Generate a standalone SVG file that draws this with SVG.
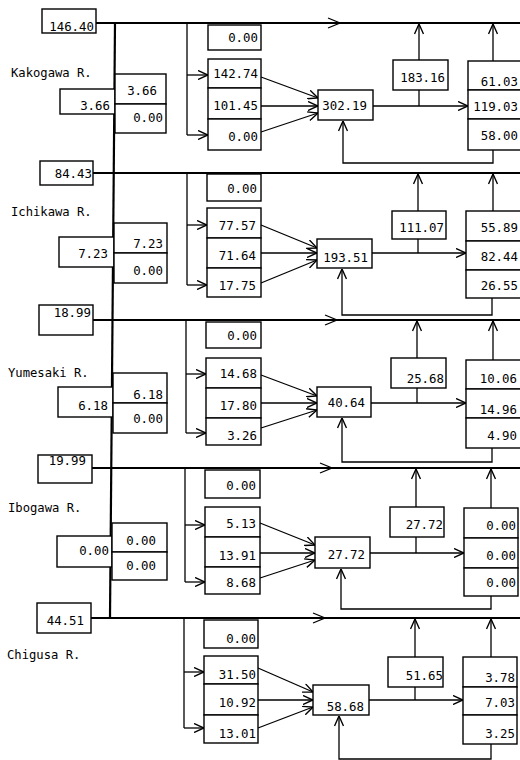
<svg xmlns="http://www.w3.org/2000/svg" width="520" height="760" viewBox="0 0 520 760">
<style>
rect{fill:#fff;stroke:#000;stroke-width:1.4}
text{font-family:"DejaVu Sans Mono","Liberation Mono",monospace;font-size:12.4px;fill:#000}
.e{text-anchor:end}
.lbl{font-size:12.2px}
#connectors path,#connectors line,#connectors polyline{fill:none;stroke:#000;stroke-width:1.3}
#connectors .main{stroke-width:2.2}
</style>
<defs>
<marker id="a" viewBox="0 0 10 10" refX="10" refY="5" markerWidth="11" markerHeight="10" markerUnits="userSpaceOnUse" orient="auto">
<path d="M0,0.5 L10,5 L0,9.5" fill="none" stroke="#000" stroke-width="1.4"/>
</marker>
</defs>
<rect x="0" y="0" width="520" height="760" style="stroke:none;fill:#fff"/>

<g id="connectors">
<!-- trunk -->
<line class="main" x1="115" y1="23" x2="110" y2="618"/>
<!-- Section 1 -->
<line class="main" x1="96" y1="23" x2="520" y2="23"/>
<polyline points="328,18 340,23 328,28"/>
<line x1="187" y1="23" x2="187" y2="135"/>
<line x1="187" y1="75" x2="208" y2="75" marker-end="url(#a)"/>
<line x1="187" y1="135" x2="208" y2="135" marker-end="url(#a)"/>
<line x1="261" y1="77" x2="318" y2="98" marker-end="url(#a)"/>
<line x1="261" y1="106" x2="318" y2="106" marker-end="url(#a)"/>
<line x1="261" y1="132" x2="318" y2="113" marker-end="url(#a)"/>
<line x1="373" y1="106" x2="468" y2="106" marker-end="url(#a)"/>
<line x1="419" y1="106" x2="419" y2="90"/>
<line x1="419" y1="60" x2="419" y2="24" marker-end="url(#a)"/>
<line x1="493" y1="61" x2="493" y2="24" marker-end="url(#a)"/>
<path d="M493,150 V163 H343 V121" marker-end="url(#a)"/>
<!-- Section 2 -->
<line class="main" x1="93" y1="173" x2="520" y2="173"/>
<line x1="187" y1="173" x2="187" y2="285"/>
<line x1="187" y1="225" x2="207" y2="225" marker-end="url(#a)"/>
<line x1="187" y1="285" x2="207" y2="285" marker-end="url(#a)"/>
<line x1="261" y1="225" x2="317" y2="248" marker-end="url(#a)"/>
<line x1="261" y1="253" x2="317" y2="253" marker-end="url(#a)"/>
<line x1="261" y1="283" x2="317" y2="260" marker-end="url(#a)"/>
<line x1="372" y1="253" x2="466" y2="253" marker-end="url(#a)"/>
<line x1="418" y1="253" x2="418" y2="239"/>
<line x1="418" y1="211" x2="418" y2="174" marker-end="url(#a)"/>
<line x1="493" y1="211" x2="493" y2="174" marker-end="url(#a)"/>
<path d="M492,298 V315 H342 V269" marker-end="url(#a)"/>
<!-- Section 3 -->
<line class="main" x1="93" y1="320" x2="520" y2="320"/>
<polyline points="325,315 337,320 325,325"/>
<line x1="186" y1="320" x2="186" y2="433"/>
<line x1="186" y1="374" x2="206" y2="374" marker-end="url(#a)"/>
<line x1="186" y1="433" x2="206" y2="433" marker-end="url(#a)"/>
<line x1="261" y1="375" x2="317" y2="396" marker-end="url(#a)"/>
<line x1="261" y1="403" x2="317" y2="403" marker-end="url(#a)"/>
<line x1="261" y1="428" x2="317" y2="410" marker-end="url(#a)"/>
<line x1="371" y1="403" x2="466" y2="403" marker-end="url(#a)"/>
<line x1="417" y1="403" x2="417" y2="388"/>
<line x1="417" y1="358" x2="417" y2="321" marker-end="url(#a)"/>
<line x1="493" y1="360" x2="493" y2="321" marker-end="url(#a)"/>
<path d="M492,448 V462 H342 V418" marker-end="url(#a)"/>
<!-- Section 4 -->
<line class="main" x1="92" y1="468" x2="520" y2="468"/>
<polyline points="320,463 332,468 320,473"/>
<line x1="185" y1="468" x2="185" y2="582"/>
<line x1="185" y1="525" x2="205" y2="525" marker-end="url(#a)"/>
<line x1="185" y1="582" x2="205" y2="582" marker-end="url(#a)"/>
<line x1="260" y1="523" x2="315" y2="545" marker-end="url(#a)"/>
<line x1="260" y1="553" x2="315" y2="553" marker-end="url(#a)"/>
<line x1="260" y1="578" x2="315" y2="560" marker-end="url(#a)"/>
<line x1="370" y1="553" x2="464" y2="553" marker-end="url(#a)"/>
<line x1="416" y1="553" x2="416" y2="537"/>
<line x1="416" y1="507" x2="416" y2="469" marker-end="url(#a)"/>
<line x1="491" y1="508" x2="491" y2="469" marker-end="url(#a)"/>
<path d="M491,596 V609 H341 V569" marker-end="url(#a)"/>
<!-- Section 5 -->
<line class="main" x1="91" y1="618" x2="520" y2="618"/>
<polyline points="313,613 325,618 313,623"/>
<line x1="184" y1="618" x2="184" y2="728"/>
<line x1="184" y1="672" x2="204" y2="672" marker-end="url(#a)"/>
<line x1="184" y1="728" x2="204" y2="728" marker-end="url(#a)"/>
<line x1="258" y1="668" x2="313" y2="692" marker-end="url(#a)"/>
<line x1="258" y1="700" x2="313" y2="700" marker-end="url(#a)"/>
<line x1="258" y1="728" x2="313" y2="707" marker-end="url(#a)"/>
<line x1="369" y1="700" x2="463" y2="700" marker-end="url(#a)"/>
<line x1="415" y1="700" x2="415" y2="687"/>
<line x1="415" y1="657" x2="415" y2="619" marker-end="url(#a)"/>
<line x1="491" y1="657" x2="491" y2="619" marker-end="url(#a)"/>
<path d="M491,744 V759 H339 V716" marker-end="url(#a)"/>
</g>

<!-- Section 1 : Kakogawa R. -->
<g id="s1-label"><text class="lbl" x="11" y="77">Kakogawa R.</text></g>
<g id="s1-in"><rect x="42" y="9" width="54" height="24"/><text class="e" x="94" y="31">146.40</text></g>
<g id="s1-left"><rect x="60" y="89" width="55" height="25"/><text class="e" x="110" y="110">3.66</text></g>
<g id="s1-stackL"><rect x="115" y="74" width="51" height="30"/><text class="e" x="157" y="95">3.66</text><rect x="115" y="104" width="51" height="29"/><text class="e" x="163" y="122">0.00</text></g>
<g id="s1-top"><rect x="208" y="25" width="53" height="25"/><text class="e" x="258" y="42">0.00</text></g>
<g id="s1-mid"><rect x="208" y="59" width="53" height="29"/><text class="e" x="258" y="78">142.74</text><rect x="208" y="88" width="53" height="31"/><text class="e" x="258" y="110">101.45</text><rect x="208" y="119" width="53" height="31"/><text class="e" x="258" y="141">0.00</text></g>
<g id="s1-center"><rect x="318" y="90" width="55" height="30"/><text class="e" x="367" y="110">302.19</text></g>
<g id="s1-up"><rect x="393" y="60" width="55" height="30"/><text class="e" x="445" y="82">183.16</text></g>
<g id="s1-right"><rect x="468" y="61" width="60" height="29"/><text class="e" x="518" y="86">61.03</text><rect x="468" y="90" width="60" height="29"/><text class="e" x="518" y="111">119.03</text><rect x="468" y="119" width="60" height="31"/><text class="e" x="518" y="140">58.00</text></g>

<!-- Section 2 : Ichikawa R. -->
<g id="s2-label"><text class="lbl" x="11" y="216">Ichikawa R.</text></g>
<g id="s2-in"><rect x="40" y="161" width="53" height="24"/><text class="e" x="92" y="178">84.43</text></g>
<g id="s2-left"><rect x="59" y="237" width="55" height="30"/><text class="e" x="108" y="258">7.23</text></g>
<g id="s2-stackL"><rect x="114" y="223" width="53" height="30"/><text class="e" x="163" y="248">7.23</text><rect x="114" y="253" width="53" height="30"/><text class="e" x="163" y="275">0.00</text></g>
<g id="s2-top"><rect x="207" y="174" width="54" height="27"/><text class="e" x="257" y="193">0.00</text></g>
<g id="s2-mid"><rect x="207" y="208" width="54" height="30"/><text class="e" x="256" y="230">77.57</text><rect x="207" y="238" width="54" height="30"/><text class="e" x="256" y="260">71.64</text><rect x="207" y="268" width="54" height="29"/><text class="e" x="256" y="290">17.75</text></g>
<g id="s2-center"><rect x="317" y="239" width="55" height="29"/><text class="e" x="368" y="262">193.51</text></g>
<g id="s2-up"><rect x="392" y="211" width="54" height="28"/><text class="e" x="444" y="232">111.07</text></g>
<g id="s2-right"><rect x="466" y="211" width="60" height="30"/><text class="e" x="518" y="232">55.89</text><rect x="466" y="241" width="60" height="29"/><text class="e" x="518" y="261">82.44</text><rect x="466" y="270" width="60" height="28"/><text class="e" x="518" y="290">26.55</text></g>

<!-- Section 3 : Yumesaki R. -->
<g id="s3-label"><text class="lbl" x="8" y="377">Yumesaki R.</text></g>
<g id="s3-in"><rect x="39" y="305" width="54" height="30"/><text class="e" x="91" y="317">18.99</text></g>
<g id="s3-left"><rect x="58" y="387" width="55" height="30"/><text class="e" x="108" y="410">6.18</text></g>
<g id="s3-stackL"><rect x="113" y="373" width="54" height="30"/><text class="e" x="163" y="399">6.18</text><rect x="113" y="403" width="54" height="30"/><text class="e" x="163" y="423">0.00</text></g>
<g id="s3-top"><rect x="206" y="322" width="55" height="26"/><text class="e" x="257" y="340">0.00</text></g>
<g id="s3-mid"><rect x="206" y="358" width="55" height="30"/><text class="e" x="257" y="378">14.68</text><rect x="206" y="388" width="55" height="30"/><text class="e" x="257" y="410">17.80</text><rect x="206" y="418" width="55" height="27"/><text class="e" x="257" y="440">3.26</text></g>
<g id="s3-center"><rect x="317" y="387" width="54" height="30"/><text class="e" x="365" y="407">40.64</text></g>
<g id="s3-up"><rect x="391" y="358" width="55" height="30"/><text class="e" x="444" y="383">25.68</text></g>
<g id="s3-right"><rect x="466" y="360" width="60" height="29"/><text class="e" x="517" y="383">10.06</text><rect x="466" y="389" width="60" height="29"/><text class="e" x="517" y="414">14.96</text><rect x="466" y="418" width="60" height="30"/><text class="e" x="517" y="440">4.90</text></g>

<!-- Section 4 : Ibogawa R. -->
<g id="s4-label"><text class="lbl" x="8" y="512">Ibogawa R.</text></g>
<g id="s4-in"><rect x="38" y="455" width="54" height="28"/><text class="e" x="86" y="465">19.99</text></g>
<g id="s4-left"><rect x="57" y="536" width="55" height="31"/><text class="e" x="109" y="555">0.00</text></g>
<g id="s4-stackL"><rect x="112" y="523" width="55" height="29"/><text class="e" x="156" y="545">0.00</text><rect x="112" y="552" width="55" height="28"/><text class="e" x="156" y="570">0.00</text></g>
<g id="s4-top"><rect x="205" y="470" width="55" height="28"/><text class="e" x="256" y="490">0.00</text></g>
<g id="s4-mid"><rect x="205" y="507" width="55" height="30"/><text class="e" x="256" y="528">5.13</text><rect x="205" y="537" width="55" height="30"/><text class="e" x="256" y="560">13.91</text><rect x="205" y="567" width="55" height="27"/><text class="e" x="256" y="587">8.68</text></g>
<g id="s4-center"><rect x="315" y="537" width="55" height="31"/><text class="e" x="365" y="559">27.72</text></g>
<g id="s4-up"><rect x="390" y="507" width="54" height="30"/><text class="e" x="443" y="529">27.72</text></g>
<g id="s4-right"><rect x="464" y="508" width="54" height="30"/><text class="e" x="516" y="530">0.00</text><rect x="464" y="538" width="54" height="30"/><text class="e" x="516" y="560">0.00</text><rect x="464" y="568" width="54" height="28"/><text class="e" x="516" y="587">0.00</text></g>

<!-- Section 5 : Chigusa R. -->
<g id="s5-label"><text class="lbl" x="7" y="659">Chigusa R.</text></g>
<g id="s5-in"><rect x="37" y="603" width="54" height="30"/><text class="e" x="84" y="625">44.51</text></g>
<g id="s5-top"><rect x="204" y="620" width="54" height="28"/><text class="e" x="256" y="643">0.00</text></g>
<g id="s5-mid"><rect x="204" y="656" width="54" height="28"/><text class="e" x="256" y="679">31.50</text><rect x="204" y="684" width="54" height="31"/><text class="e" x="256" y="707">10.92</text><rect x="204" y="715" width="54" height="28"/><text class="e" x="256" y="738">13.01</text></g>
<g id="s5-center"><rect x="313" y="685" width="56" height="30"/><text class="e" x="364" y="711">58.68</text></g>
<g id="s5-up"><rect x="388" y="657" width="55" height="30"/><text class="e" x="443" y="680">51.65</text></g>
<g id="s5-right"><rect x="463" y="657" width="54" height="30"/><text class="e" x="515" y="682">3.78</text><rect x="463" y="687" width="54" height="28"/><text class="e" x="515" y="707">7.03</text><rect x="463" y="715" width="54" height="29"/><text class="e" x="515" y="738">3.25</text></g>
</svg>
